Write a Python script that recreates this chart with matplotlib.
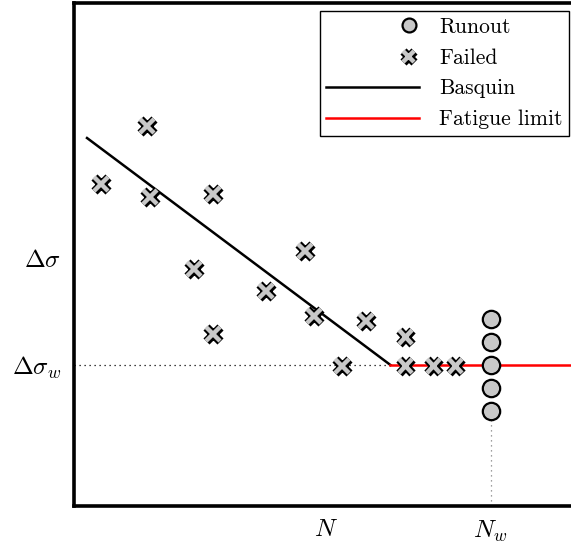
import numpy as np
import matplotlib.pyplot as plt
import matplotlib.patheffects as pe
from matplotlib.legend_handler import HandlerLine2D

plt.rcParams["mathtext.fontset"] = "cm"
plt.rcParams["font.family"] = ["cmr10", "DejaVu Sans"]
plt.rcParams["axes.formatter.use_mathtext"] = True

# failed specimens (life, stress amplitude)
failed_N = [101, 147, 150, 213, 194, 213, 266, 305, 314, 366, 342, 405, 405, 433, 455]
failed_S = [362, 420, 349, 352, 277, 212, 255, 295, 230, 225, 180, 209, 180, 180, 180]

# runouts at N_w
runout_N = [490, 490, 490, 490, 490]
runout_S = [227, 204, 181, 158, 135]

# Basquin line and fatigue limit
basquin_N = [87, 390]
basquin_S = [408, 181]
limit_N = [390, 571]
limit_S = [181, 181]

N_w = 490
S_w = 181
xtick_pos = [326, N_w]
xtick_lab = [r"$N$", r"$N_w$"]
ytick_pos = [288, S_w]
ytick_lab = [r"$\Delta\sigma$", r"$\Delta\sigma_w$"]


class RightMarker(HandlerLine2D):
    # put the marker at the right end of the handle
    def get_xdata(self, legend, xdescent, ydescent, width, height, fontsize):
        x = -xdescent + width - 0.45 * fontsize
        return [x], [x]


fig = plt.figure(figsize=(5.71, 5.46), dpi=100)
ax = fig.add_axes([74 / 571, 40 / 546, 1 - 74 / 571 + 0.01, 503 / 546])

ax.plot([74, basquin_N[1]], [S_w, S_w], ls=(0, (1, 3)), color="black", lw=0.9)
ax.plot([N_w, N_w], [40, runout_S[-1]], ls=(0, (1, 3)), color="gray", lw=0.9)

ax.plot(basquin_N, basquin_S, color="black", lw=1.8, label="Basquin", zorder=2)
ax.plot(limit_N, limit_S, color="red", lw=1.8, label="Fatigue limit", zorder=2)

ax.plot(runout_N, runout_S, ls="none", marker="o", ms=12.5, mfc="#c8c8c8",
        mec="black", mew=1.6, label="Runout", zorder=3)
ax.plot(failed_N, failed_S, ls="none", marker="x", ms=10, color="#c8c8c8",
        mew=3.2, label="Failed", zorder=3,
        path_effects=[pe.Stroke(linewidth=6.2, foreground="black"), pe.Normal()])

ax.set_xlim(74, 571 + 5)
ax.set_ylim(40, 543)
ax.set_xticks(xtick_pos)
ax.set_xticklabels(xtick_lab, fontsize=18)
ax.set_yticks(ytick_pos)
ax.set_yticklabels(ytick_lab, fontsize=18)
ax.tick_params(length=0, pad=9)

for s in ax.spines.values():
    s.set_linewidth(2.6)

h, l = ax.get_legend_handles_labels()
order = [2, 3, 0, 1]
hm = {h[2]: RightMarker(), h[3]: RightMarker()}
leg = ax.legend([h[i] for i in order], [l[i] for i in order], loc="upper right",
                fontsize=15.5, fancybox=False, edgecolor="black", framealpha=1,
                borderaxespad=0, borderpad=0.3, handlelength=4.3, markerscale=0.8,
                handletextpad=0.95, labelspacing=0.52, handler_map=hm,
                bbox_to_anchor=(569 / 571, 535 / 546), bbox_transform=fig.transFigure)
leg.get_frame().set_linewidth(1.0)

fig.savefig("out.png", dpi=100)
